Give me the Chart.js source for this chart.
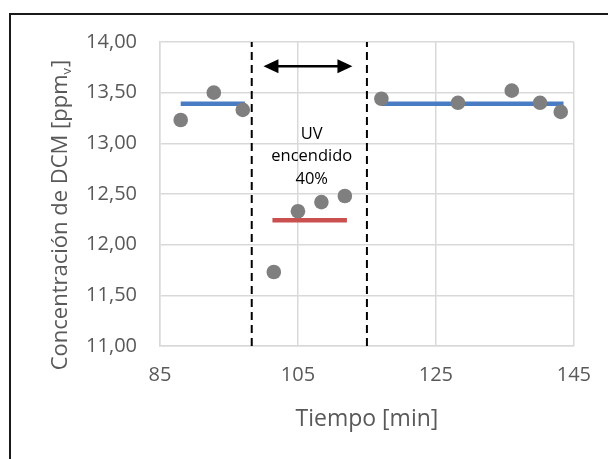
<!DOCTYPE html>
<html>
<head>
<meta charset="utf-8">
<script src="https://cdn.jsdelivr.net/npm/chart.js@4/dist/chart.umd.min.js"></script>
<style>
  html, body { margin: 0; padding: 0; background: #ffffff; }
  #wrap { width: 608px; height: 459px; position: relative; }
</style>
</head>
<body>
<div id="wrap"><canvas id="c" width="608" height="459"></canvas></div>
<script>
// ---- data ----
const tiempo = [88.0, 92.8, 97.0, 101.5, 105.0, 108.4, 111.8, 117.1, 128.2, 136.0, 140.1, 143.1];
const concentracion = [13.23, 13.50, 13.33, 11.73, 12.33, 12.42, 12.48, 13.44, 13.40, 13.52, 13.40, 13.31];

const tramoAntes = [88.0, 97.3];
const mediaAntes = 13.39;
const tramoUV = [101.3, 112.1];
const mediaUV = 12.24;
const tramoDespues = [117.1, 143.5];
const mediaDespues = 13.39;

const limitesUV = [98.3, 115.0];
const flechaX = [100.0, 112.9];
const flechaY = 13.76;

const rotuloUV = ['UV', 'encendido', '40%'];
const rotuloUVx = 107.0;
const rotuloUVy = [13.09, 12.87, 12.65];

const xMin = 85, xMax = 145, xPaso = 20;
const yMin = 11, yMax = 14, yPaso = 0.5;

const tituloX = 'Tiempo [min]';
const tituloY = ['Concentración de DCM [ppm', 'v', ']'];

// ---- helpers ----
const puntos = tiempo.map((t, i) => ({ x: t, y: concentracion[i] }));
const tramo = (xs, y) => xs.map(x => ({ x: x, y: y }));
const vertical = (x) => [{ x: x, y: yMin }, { x: x, y: yMax }];

const GRIS_TXT = '#595959';
const FUENTE = '"Open Sans", "Liberation Sans", sans-serif';

const decoracion = {
  id: 'decoracion',
  beforeDraw(chart) {
    const ctx = chart.ctx;
    ctx.save();
    ctx.fillStyle = '#ffffff';
    ctx.fillRect(0, 0, chart.width, chart.height);
    // outer frame (top + left)
    ctx.strokeStyle = '#1a1a1a';
    ctx.lineWidth = 2;
    ctx.beginPath();
    ctx.moveTo(10, chart.height);
    ctx.lineTo(10, 14);
    ctx.lineTo(chart.width, 14);
    ctx.stroke();
    ctx.restore();
  },
  afterDatasetsDraw(chart) {
    const ctx = chart.ctx;
    const xs = chart.scales.x, ys = chart.scales.y;
    ctx.save();
    // double arrow
    const x1 = xs.getPixelForValue(flechaX[0]);
    const x2 = xs.getPixelForValue(flechaX[1]);
    const y = ys.getPixelForValue(flechaY);
    const head = 15, half = 7;
    ctx.strokeStyle = '#000';
    ctx.fillStyle = '#000';
    ctx.lineWidth = 2.5;
    ctx.beginPath();
    ctx.moveTo(x1 + head - 2, y);
    ctx.lineTo(x2 - head + 2, y);
    ctx.stroke();
    ctx.beginPath();
    ctx.moveTo(x1, y); ctx.lineTo(x1 + head, y - half); ctx.lineTo(x1 + head, y + half); ctx.closePath();
    ctx.fill();
    ctx.beginPath();
    ctx.moveTo(x2, y); ctx.lineTo(x2 - head, y - half); ctx.lineTo(x2 - head, y + half); ctx.closePath();
    ctx.fill();
    // UV label
    ctx.font = '16.5px ' + FUENTE;
    ctx.textAlign = 'center';
    ctx.textBaseline = 'middle';
    ctx.fillStyle = '#000';
    rotuloUV.forEach((t, i) => {
      ctx.fillText(t, xs.getPixelForValue(rotuloUVx), ys.getPixelForValue(rotuloUVy[i]));
    });
    ctx.restore();
  },
  afterDraw(chart) {
    const ctx = chart.ctx;
    ctx.save();
    const big = '22px ' + FUENTE, small = '13px ' + FUENTE;
    ctx.font = big;
    const w0 = ctx.measureText(tituloY[0]).width;
    const w2 = ctx.measureText(tituloY[2]).width;
    ctx.font = small;
    const w1 = ctx.measureText(tituloY[1]).width;
    const total = w0 + w1 + w2 + 1;
    ctx.translate(67, 215);
    ctx.rotate(-Math.PI / 2);
    ctx.fillStyle = GRIS_TXT;
    ctx.textBaseline = 'alphabetic';
    ctx.textAlign = 'left';
    let x = -total / 2;
    ctx.font = big;
    ctx.fillText(tituloY[0], x, 0);
    x += w0;
    ctx.font = small;
    ctx.fillText(tituloY[1], x, 4);
    x += w1 + 1;
    ctx.font = big;
    ctx.fillText(tituloY[2], x, 0);
    ctx.restore();
  }
};

const lineaBase = {
  type: 'line', showLine: true, pointRadius: 0, pointHoverRadius: 0,
  fill: false, tension: 0, borderCapStyle: 'butt'
};

new Chart(document.getElementById('c'), {
  type: 'scatter',
  data: {
    datasets: [
      {
        label: 'DCM',
        data: puntos,
        backgroundColor: '#7f7f7f',
        borderColor: '#7f7f7f',
        pointRadius: 7.3,
        pointHoverRadius: 7.3,
        pointBorderWidth: 0
      },
      Object.assign({}, lineaBase, { label: 'Media antes', data: tramo(tramoAntes, mediaAntes), borderColor: '#4a7cc4', borderWidth: 4.5 }),
      Object.assign({}, lineaBase, { label: 'Media UV', data: tramo(tramoUV, mediaUV), borderColor: '#c9504f', borderWidth: 4.5 }),
      Object.assign({}, lineaBase, { label: 'Media después', data: tramo(tramoDespues, mediaDespues), borderColor: '#4a7cc4', borderWidth: 4.5 }),
      Object.assign({}, lineaBase, { label: 'Inicio UV', data: vertical(limitesUV[0]), borderColor: '#000', borderWidth: 2, borderDash: [8, 5] }),
      Object.assign({}, lineaBase, { label: 'Fin UV', data: vertical(limitesUV[1]), borderColor: '#000', borderWidth: 2, borderDash: [8, 5] })
    ]
  },
  options: {
    responsive: false,
    animation: false,
    devicePixelRatio: 1,
    layout: { padding: { left: 10, right: 31, top: 42, bottom: 0 } },
    plugins: { legend: { display: false }, tooltip: { enabled: false } },
    scales: {
      x: {
        type: 'linear',
        min: xMin, max: xMax,
        afterFit(scale) { scale.height = 113; },
        ticks: {
          stepSize: xPaso,
          padding: 17,
          color: GRIS_TXT,
          font: { family: FUENTE, size: 20 },
          maxRotation: 0
        },
        grid: { color: '#d9d9d9', lineWidth: 1.5, drawTicks: false },
        border: { color: '#d9d9d9', width: 1.5 },
        title: {
          display: true,
          text: tituloX,
          color: GRIS_TXT,
          font: { family: FUENTE, size: 23 },
          padding: { top: 0, bottom: 26 }
        }
      },
      y: {
        type: 'linear',
        min: yMin, max: yMax,
        afterFit(scale) { scale.width = 150; },
        ticks: {
          stepSize: yPaso,
          padding: 23,
          color: GRIS_TXT,
          font: { family: FUENTE, size: 20 },
          callback: (v) => Number(v).toFixed(2).replace('.', ',')
        },
        grid: { color: '#d9d9d9', lineWidth: 1.5, drawTicks: false },
        border: { color: '#d9d9d9', width: 1.5 }
      }
    }
  },
  plugins: [decoracion]
});
</script>
</body>
</html>
